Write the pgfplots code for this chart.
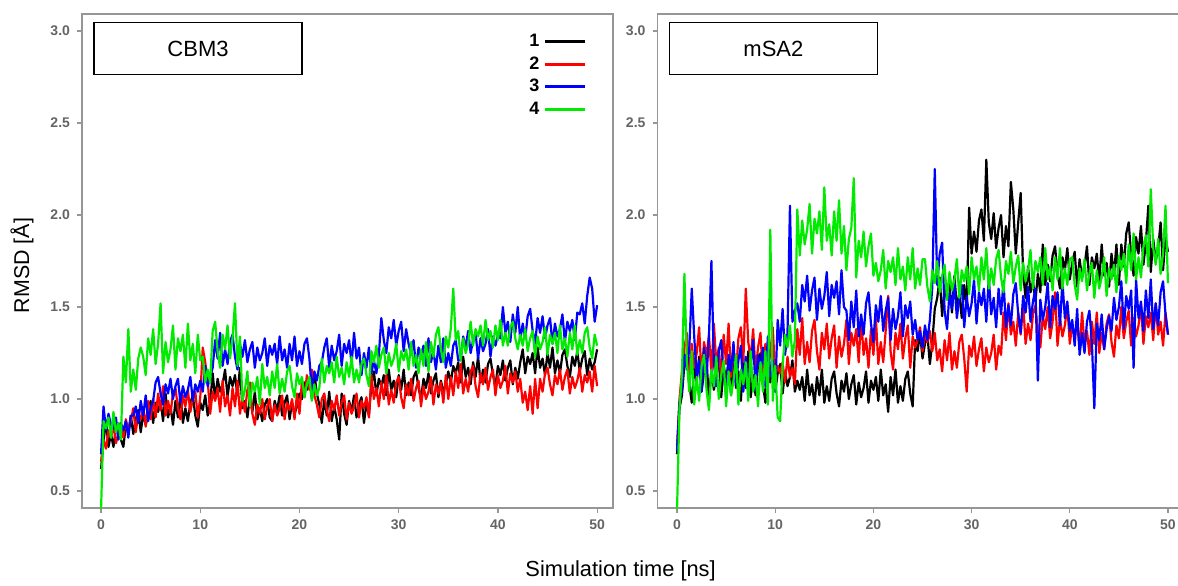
\documentclass[border=0pt]{standalone}
\usepackage{fontspec}
\setmainfont{Liberation Sans}
\usepackage{pgfplots}
\usepackage{pgfplotstable}
\pgfplotsset{compat=1.18}

\definecolor{framegray}{RGB}{150,150,150}
\definecolor{tickgray}{RGB}{100,100,100}
\definecolor{sred}{RGB}{255,0,0}
\definecolor{sblue}{RGB}{0,0,255}
\definecolor{sgreen}{RGB}{0,235,0}

% CBM3: time (ns), RMSD of runs 1-4
\pgfplotstableread{
t a b c d
0 0.62 0.66 0.70 0.40
0.25 0.77 0.78 0.96 0.88
0.5 0.88 0.73 0.83 0.84
0.75 0.74 0.83 0.92 0.90
1 0.81 0.79 0.86 0.79
1.25 0.74 0.86 0.84 0.93
1.5 0.84 0.76 0.90 0.82
1.75 0.87 0.81 0.78 0.87
2 0.78 0.85 0.87 0.78
2.25 0.74 0.79 0.83 1.23
2.5 0.86 0.89 0.88 1.09
2.75 0.82 0.83 0.79 1.38
3 0.91 0.88 0.91 1.04
3.25 0.81 0.95 0.91 1.16
3.5 0.89 0.82 0.96 1.05
3.75 0.94 0.92 0.87 1.22
4 0.82 0.89 0.99 1.28
4.25 0.92 0.95 0.91 1.23
4.5 0.86 0.85 1.02 1.13
4.75 0.91 0.99 0.88 1.33
5 0.99 0.89 0.95 1.24
5.25 0.87 1.00 0.99 1.38
5.5 0.98 0.90 1.09 1.19
5.75 0.93 1.03 1.12 1.30
6 0.99 0.94 1.03 1.52
6.25 0.88 1.07 0.97 1.14
6.5 1.03 0.91 1.08 1.31
6.75 0.90 0.99 1.03 1.20
7 0.96 0.92 1.11 1.27
7.25 0.86 1.03 1.00 1.40
7.5 0.99 1.06 1.07 1.16
7.75 0.90 0.95 1.11 1.33
8 1.03 0.89 0.98 1.26
8.25 0.87 1.02 1.07 1.35
8.5 0.95 0.96 1.01 1.17
8.75 0.88 1.05 1.05 1.41
9 0.98 0.93 1.12 1.21
9.25 1.02 1.00 0.99 1.30
9.5 0.91 1.04 1.08 1.14
9.75 0.85 0.90 1.04 1.35
10 0.98 1.01 1.10 1.21
10.25 0.94 1.28 1.04 1.23
10.5 1.02 1.20 1.18 1.09
10.75 0.91 1.10 1.07 1.16
11 0.98 0.92 1.12 1.09
11.25 1.14 1.04 1.17 1.37
11.5 1.00 0.99 1.32 1.42
11.75 1.11 1.06 1.22 1.26
12 1.04 0.93 1.36 1.17
12.25 1.08 1.10 1.18 1.35
12.5 1.16 0.96 1.27 1.27
12.75 1.01 1.02 1.19 1.40
13 1.12 0.91 1.31 1.22
13.25 1.07 1.06 1.35 1.33
13.5 1.13 0.96 1.23 1.52
13.75 1.02 1.10 1.16 1.18
14 1.17 0.92 1.30 1.34
14.25 0.95 1.01 1.23 0.99
14.5 0.99 0.93 1.32 1.05
14.75 0.90 1.05 1.20 1.15
15 1.01 1.09 1.27 0.96
15.25 0.93 0.92 1.31 1.09
15.5 1.04 0.86 1.17 1.04
15.75 0.89 0.97 1.28 1.12
16 0.95 0.92 1.21 0.97
16.25 0.88 1.00 1.25 1.19
16.5 0.97 0.89 1.33 1.06
16.75 1.00 0.96 1.18 1.12
17 0.90 1.00 1.29 1.02
17.25 0.88 0.88 1.24 1.15
17.5 0.99 0.97 1.30 1.06
17.75 0.94 0.91 1.19 1.19
18 1.02 0.95 1.34 1.03
18.25 0.91 1.02 1.21 1.11
18.5 0.98 0.89 1.27 1.04
18.75 1.02 0.98 1.17 1.15
19 0.89 0.94 1.30 1.18
19.25 0.98 1.00 1.21 1.07
19.5 0.92 0.89 1.34 1.01
19.75 0.96 1.03 1.18 1.14
20 1.03 0.92 1.26 1.08
20.25 1.00 1.10 1.19 1.12
20.5 1.09 1.01 1.30 1.01
20.75 1.05 1.13 1.33 1.08
21 1.11 1.05 1.22 1.12
21.25 1.00 1.16 1.04 0.99
21.5 1.14 1.02 1.15 1.08
21.75 1.03 0.97 1.10 1.02
22 0.97 0.90 1.18 1.06
22.25 0.87 1.00 1.20 1.22
22.5 1.00 1.03 1.28 1.09
22.75 0.91 0.94 1.33 1.18
23 1.04 0.88 1.17 1.14
23.25 0.88 0.99 1.29 1.20
23.5 0.96 0.94 1.21 1.09
23.75 0.89 1.02 1.26 1.23
24 0.78 0.91 1.35 1.12
24.25 1.03 0.98 1.18 1.17
24.5 0.92 1.02 1.30 1.08
24.75 0.86 0.89 1.25 1.20
25 0.99 0.98 1.32 1.12
25.25 0.93 0.92 1.19 1.23
25.5 1.02 0.96 1.36 1.09
25.75 0.90 1.03 1.22 1.16
26 0.97 0.90 1.28 1.09
26.25 1.01 0.99 1.13 1.19
26.5 0.87 0.95 1.25 1.22
26.75 0.98 1.01 1.17 1.13
27 0.91 0.90 1.28 1.07
27.25 1.08 1.13 1.14 1.26
27.5 1.15 1.00 1.21 1.20
27.75 1.02 1.06 1.14 1.29
28 1.11 0.96 1.24 1.17
28.25 1.07 1.09 1.44 1.24
28.5 1.13 1.00 1.32 1.28
28.75 1.02 1.13 1.25 1.14
29 1.16 0.97 1.39 1.25
29.25 1.05 1.05 1.33 1.18
29.5 1.10 0.98 1.43 1.22
29.75 1.01 1.09 1.29 1.30
30 1.13 1.12 1.37 1.15
30.25 1.05 1.01 1.42 1.26
30.5 1.16 0.95 1.26 1.21
30.75 1.02 1.08 1.38 1.27
31 1.09 1.02 1.30 1.16
31.25 1.02 1.11 1.24 1.31
31.5 1.12 0.99 1.32 1.18
31.75 1.15 1.06 1.17 1.24
32 1.06 1.10 1.28 1.14
32.25 1.00 0.96 1.23 1.27
32.5 1.11 1.07 1.29 1.18
32.75 1.06 1.00 1.18 1.31
33 1.14 1.04 1.33 1.15
33.25 1.03 1.12 1.20 1.31
33.5 1.10 0.97 1.26 1.23
33.75 1.14 1.08 1.16 1.35
34 1.01 1.03 1.29 1.39
34.25 1.10 1.09 1.20 1.27
34.5 1.04 0.98 1.33 1.20
34.75 1.08 1.13 1.17 1.34
35 1.15 1.00 1.25 1.28
35.25 1.09 1.12 1.18 1.38
35.5 1.18 1.02 1.29 1.60
35.75 1.14 1.15 1.32 1.32
36 1.20 1.06 1.21 1.37
36.25 1.09 1.19 1.21 1.21
36.5 1.23 1.03 1.34 1.33
36.75 1.12 1.11 1.28 1.25
37 1.17 1.04 1.37 1.30
37.25 1.08 1.15 1.25 1.42
37.5 1.20 1.18 1.32 1.29
37.75 1.12 1.07 1.36 1.38
38 1.23 1.01 1.22 1.34
38.25 1.09 1.14 1.33 1.40
38.5 1.16 1.08 1.26 1.29
38.75 1.09 1.17 1.30 1.43
39 1.19 1.05 1.38 1.32
39.25 1.22 1.12 1.23 1.37
39.5 1.13 1.16 1.34 1.28
39.75 1.07 1.02 1.29 1.40
40 1.18 1.13 1.35 1.32
40.25 1.13 1.06 1.33 1.43
40.5 1.21 1.10 1.50 1.29
40.75 1.10 1.18 1.36 1.36
41 1.17 1.03 1.42 1.29
41.25 1.21 1.14 1.31 1.39
41.5 1.08 1.09 1.46 1.42
41.75 1.17 1.15 1.36 1.33
42 1.11 1.04 1.50 1.27
42.25 1.20 1.11 1.32 1.35
42.5 1.27 0.98 1.41 1.29
42.75 1.14 1.04 1.33 1.38
43 1.23 0.94 1.45 1.26
43.25 1.19 1.07 1.49 1.33
43.5 1.25 0.92 1.37 1.37
43.75 1.14 1.11 1.30 1.23
44 1.28 0.95 1.44 1.34
44.25 1.17 1.11 1.36 1.27
44.5 1.22 1.04 1.45 1.31
44.75 1.13 1.14 1.33 1.39
45 1.25 1.17 1.40 1.24
45.25 1.17 1.08 1.44 1.35
45.5 1.28 1.02 1.30 1.30
45.75 1.14 1.13 1.41 1.36
46 1.21 1.08 1.34 1.25
46.25 1.14 1.16 1.38 1.40
46.5 1.24 1.05 1.46 1.27
46.75 1.27 1.12 1.31 1.33
47 1.18 1.16 1.42 1.23
47.25 1.12 1.03 1.37 1.36
47.5 1.23 1.12 1.43 1.27
47.75 1.18 1.06 1.32 1.40
48 1.26 1.10 1.47 1.24
48.25 1.15 1.17 1.46 1.32
48.5 1.22 1.04 1.52 1.25
48.75 1.26 1.13 1.41 1.36
49 1.13 1.09 1.56 1.39
49.25 1.22 1.15 1.66 1.28
49.5 1.16 1.04 1.60 1.22
49.75 1.20 1.18 1.42 1.35
50 1.27 1.07 1.51 1.29
}\cbm

% mSA2: time (ns), RMSD of runs 1-4
\pgfplotstableread{
t a b c d
0 0.70 0.75 0.72 0.40
0.25 0.95 1.00 0.98 0.95
0.5 1.02 1.15 1.05 1.13
0.75 1.19 1.28 1.24 1.68
1 1.25 1.36 1.16 1.20
1.25 1.08 1.11 1.28 1.04
1.5 0.98 1.30 1.60 1.26
1.75 1.18 1.17 1.34 0.97
2 1.09 1.25 1.12 1.12
2.25 1.23 1.39 1.21 0.99
2.5 1.04 1.12 1.04 1.18
2.75 1.15 1.31 1.28 1.24
3 1.22 1.23 1.12 1.05
3.25 0.99 1.35 1.34 0.94
3.5 1.16 1.14 1.75 1.16
3.75 1.05 1.41 1.20 1.07
4 1.12 1.19 1.07 1.23
4.25 1.25 1.28 1.26 1.00
4.5 1.01 1.11 1.32 1.13
4.75 1.18 1.35 1.13 1.21
5 1.11 1.19 1.02 0.96
5.25 1.20 1.41 1.24 1.15
5.5 1.02 1.12 1.15 1.02
5.75 1.26 1.27 1.31 1.10
6 1.06 1.14 1.08 1.24
6.25 1.15 1.33 1.21 0.97
6.5 0.99 1.39 1.29 1.16
6.75 1.20 1.20 1.04 1.08
7 1.06 1.60 1.23 1.20
7.25 1.26 1.31 1.10 0.99
7.5 1.01 1.22 1.18 1.26
7.75 1.13 1.38 1.32 1.04
8 1.02 1.15 1.05 1.13
8.25 1.19 1.28 1.24 0.96
8.5 1.25 1.36 1.16 1.20
8.75 1.08 1.11 1.28 1.04
9 0.98 1.30 1.07 1.26
9.25 1.18 1.17 1.34 0.97
9.5 1.09 1.25 1.12 1.92
9.75 1.23 1.39 1.21 0.99
10 1.04 1.12 1.04 1.18
10.25 1.14 1.18 1.43 0.90
10.5 1.19 1.14 1.29 0.88
10.75 1.03 1.20 1.49 1.18
11 1.15 1.09 1.24 1.35
11.25 1.07 1.23 1.36 1.28
11.5 1.12 1.12 2.05 1.40
11.75 1.21 1.17 1.42 1.23
12 1.04 1.08 1.48 1.32
12.25 1.10 1.38 1.52 2.03
12.5 1.05 1.24 1.42 1.78
12.75 1.12 1.44 1.62 1.97
13 0.99 1.19 1.53 1.84
13.25 1.16 1.31 1.67 1.92
13.5 1.02 1.20 1.48 2.06
13.75 1.08 1.37 1.59 1.79
14 0.97 1.43 1.66 1.98
14.25 1.12 1.26 1.43 1.90
14.5 1.02 1.16 1.60 2.02
14.75 1.16 1.36 1.49 1.81
15 0.98 1.27 1.56 2.15
15.25 1.07 1.41 1.69 1.86
15.5 0.99 1.22 1.45 1.95
15.75 1.11 1.33 1.62 1.78
16 1.15 1.40 1.55 2.02
16.25 1.03 1.17 1.64 1.86
16.5 0.96 1.34 1.46 2.08
16.75 1.10 1.23 1.70 1.79
17 1.04 1.30 1.50 1.94
17.25 1.14 1.43 1.48 1.70
17.5 1.00 1.19 1.32 1.87
17.75 1.08 1.36 1.53 1.93
18 1.13 1.29 1.39 2.20
18.25 0.97 1.38 1.59 1.66
18.5 1.09 1.20 1.34 1.86
18.75 1.01 1.44 1.46 1.77
19 1.06 1.24 1.35 1.91
19.25 1.15 1.33 1.52 1.72
19.5 0.98 1.17 1.58 1.83
19.75 1.10 1.38 1.41 1.90
20 1.05 1.24 1.31 1.67
20.25 1.12 1.44 1.51 1.74
20.5 0.99 1.19 1.42 1.64
20.75 1.16 1.31 1.56 1.70
21 1.02 1.20 1.37 1.81
21.25 1.08 1.37 1.48 1.60
21.5 0.93 1.56 1.55 1.75
21.75 1.12 1.26 1.32 1.69
22 1.02 1.16 1.49 1.77
22.25 1.16 1.36 1.38 1.62
22.5 0.98 1.27 1.45 1.82
22.75 1.07 1.41 1.58 1.65
23 0.99 1.22 1.34 1.72
23.25 1.11 1.33 1.51 1.59
23.5 1.15 1.40 1.44 1.77
23.75 1.03 1.17 1.53 1.65
24 0.96 1.34 1.35 1.82
24.25 1.32 1.28 1.43 1.60
24.5 1.26 1.32 1.32 1.71
24.75 1.36 1.39 1.37 1.62
25 1.22 1.26 1.28 1.76
25.25 1.30 1.35 1.40 1.76
25.5 1.35 1.31 1.32 1.61
25.75 1.19 1.37 1.43 1.53
26 1.31 1.26 1.61 1.70
26.25 1.49 1.36 2.25 1.63
26.5 1.55 1.21 1.62 1.75
26.75 1.66 1.27 1.79 1.58
27 1.45 1.15 1.85 1.67
27.25 1.60 1.32 1.48 1.73
27.5 1.54 1.21 1.38 1.54
27.75 1.62 1.36 1.58 1.69
28 1.47 1.16 1.49 1.59
28.25 1.67 1.26 1.63 1.65
28.5 1.50 1.17 1.44 1.76
28.75 1.57 1.31 1.55 1.55
29 1.44 1.35 1.62 1.70
29.25 1.62 1.22 1.39 1.64
29.5 1.50 1.04 1.56 1.72
29.75 2.04 1.29 1.45 1.57
30 1.79 1.23 1.52 1.77
30.25 1.91 1.34 1.65 1.65
30.5 1.80 1.18 1.41 1.72
30.75 1.97 1.27 1.58 1.59
31 2.03 1.33 1.51 1.77
31.25 1.86 1.15 1.60 1.65
31.5 2.30 1.28 1.42 1.82
31.75 1.96 1.20 1.66 1.60
32 1.87 1.25 1.46 1.71
32.25 2.01 1.35 1.55 1.62
32.5 1.82 1.16 1.39 1.76
32.75 1.93 1.29 1.60 1.81
33 2.00 1.24 1.46 1.66
33.25 1.77 1.47 1.64 1.58
33.5 1.94 1.32 1.39 1.75
33.75 1.83 1.52 1.51 1.68
34 2.18 1.35 1.40 1.80
34.25 2.03 1.42 1.57 1.63
34.5 1.79 1.29 1.63 1.72
34.75 1.96 1.47 1.46 1.78
35 2.12 1.35 1.36 1.59
35.25 1.68 1.52 1.56 1.74
35.5 1.55 1.30 1.47 1.64
35.75 1.72 1.41 1.61 1.70
36 1.58 1.32 1.42 1.81
36.25 1.64 1.46 1.53 1.60
36.5 1.53 1.51 1.60 1.75
36.75 1.68 1.36 1.10 1.69
37 1.58 1.28 1.54 1.77
37.25 1.84 1.45 1.43 1.62
37.5 1.62 1.38 1.50 1.82
37.75 1.73 1.50 1.63 1.65
38 1.64 1.33 1.39 1.72
38.25 1.78 1.42 1.56 1.59
38.5 1.83 1.58 1.49 1.77
38.75 1.68 1.29 1.58 1.65
39 1.60 1.44 1.40 1.82
39.25 1.77 1.34 1.64 1.60
39.5 1.70 1.40 1.44 1.71
39.75 1.82 1.51 1.53 1.62
40 1.65 1.30 1.37 1.76
40.25 1.74 1.40 1.43 1.77
40.5 1.80 1.34 1.29 1.62
40.75 1.61 1.42 1.49 1.54
41 1.76 1.27 1.24 1.71
41.25 1.66 1.47 1.36 1.64
41.5 1.72 1.30 1.25 1.76
41.75 1.83 1.37 1.42 1.59
42 1.62 1.24 1.48 1.68
42.25 1.77 1.42 1.31 1.74
42.5 1.71 1.30 0.95 1.55
42.75 1.79 1.47 1.41 1.70
43 1.64 1.25 1.32 1.60
43.25 1.84 1.36 1.46 1.66
43.5 1.67 1.27 1.27 1.77
43.75 1.74 1.41 1.38 1.56
44 1.61 1.46 1.45 1.71
44.25 1.79 1.31 1.37 1.65
44.5 1.67 1.23 1.55 1.73
44.75 1.84 1.40 1.43 1.58
45 1.62 1.33 1.50 1.78
45.25 1.84 1.50 1.64 1.70
45.5 1.72 1.33 1.38 1.79
45.75 1.90 1.42 1.56 1.63
46 1.96 1.48 1.49 1.84
46.25 1.78 1.29 1.59 1.70
46.5 1.67 1.44 1.17 1.90
46.75 1.88 1.34 1.65 1.65
47 1.79 1.40 1.44 1.77
47.25 1.94 1.51 1.53 1.66
47.5 1.73 1.30 1.37 1.83
47.75 1.85 1.45 1.59 1.89
48 2.05 1.39 1.44 1.72
48.25 1.69 1.47 1.65 2.14
48.5 1.87 1.32 1.38 1.82
48.75 1.75 1.52 1.52 1.73
49 1.82 1.35 1.40 1.87
49.25 1.96 1.42 1.58 1.68
49.5 1.70 1.29 1.64 1.79
49.75 1.88 1.47 1.46 2.05
50 1.80 1.35 1.35 1.63
}\msa

\pgfplotsset{
  rmsd/.style={
    scale only axis,
    anchor=south west,
    height=247pt,
    ymin=0.408, ymax=3.092,
    ytick={0.5,1,1.5,2,2.5,3},
    xtick={0,10,20,30,40,50},
    enlargelimits=false,
    tick align=outside,
    xtick pos=left, ytick pos=left,
    major tick length=2.5pt,
    tick style={framegray, line width=0.6pt},
    axis line style={framegray, line width=0.7pt},
    ticklabel style={font=\bfseries\fontsize{7}{8}\selectfont, text=tickgray},
    /pgf/number format/assume math mode=true,
    y tick label style={/pgf/number format/fixed,
      /pgf/number format/fixed zerofill,
      /pgf/number format/precision=1},
    every axis plot/.append style={line width=1.1pt, line join=round},
  },
}
\tikzset{
  panel/.style={draw=black, line width=0.6pt, minimum width=104pt,
    minimum height=26pt, inner sep=0pt, font=\fontsize{11}{13}\selectfont},
}

\begin{document}
\begin{tikzpicture}
\useasboundingbox (0,0) rectangle (589pt,292.5pt);

\begin{axis}[rmsd,
  at={(41pt,38.5pt)}, width=265.5pt,
  xmin=-1.92, xmax=51.6,
  legend style={draw=none, fill=none, at={(rel axis cs:0.962,0.976)},
    anchor=north east, font=\bfseries\fontsize{9}{10}\selectfont,
    row sep=-0.5pt,
    /tikz/every even column/.append style={column sep=6pt}},
  legend cell align=right,
  legend plot pos=right,
  legend image code/.code={\draw[#1, line width=1.5pt] (0pt,0pt) -- (20pt,0pt);},
]
\addplot[black] table[x=t, y=a] {\cbm};
\addlegendentry{1}
\addplot[sred] table[x=t, y=b] {\cbm};
\addlegendentry{2}
\addplot[sblue] table[x=t, y=c] {\cbm};
\addlegendentry{3}
\addplot[sgreen] table[x=t, y=d] {\cbm};
\addlegendentry{4}
\node[panel] at (rel axis cs:0.2185,0.930) {CBM3};
\end{axis}

\begin{axis}[rmsd,
  at={(328.75pt,38.5pt)}, width=262.25pt,
  xmin=-1.99, xmax=51.43,
]
\addplot[black] table[x=t, y=a] {\msa};
\addplot[sred] table[x=t, y=b] {\msa};
\addplot[sblue] table[x=t, y=c] {\msa};
\addplot[sgreen] table[x=t, y=d] {\msa};
\node[panel] at (rel axis cs:0.221,0.930) {mSA2};
\end{axis}

\node[rotate=90, font=\fontsize{10.7}{13}\selectfont] at (11pt,159.75pt) {RMSD [Å]};
\node[font=\fontsize{10.9}{13}\selectfont] at (310.3pt,7pt) {Simulation time [ns]};
\end{tikzpicture}
\end{document}
